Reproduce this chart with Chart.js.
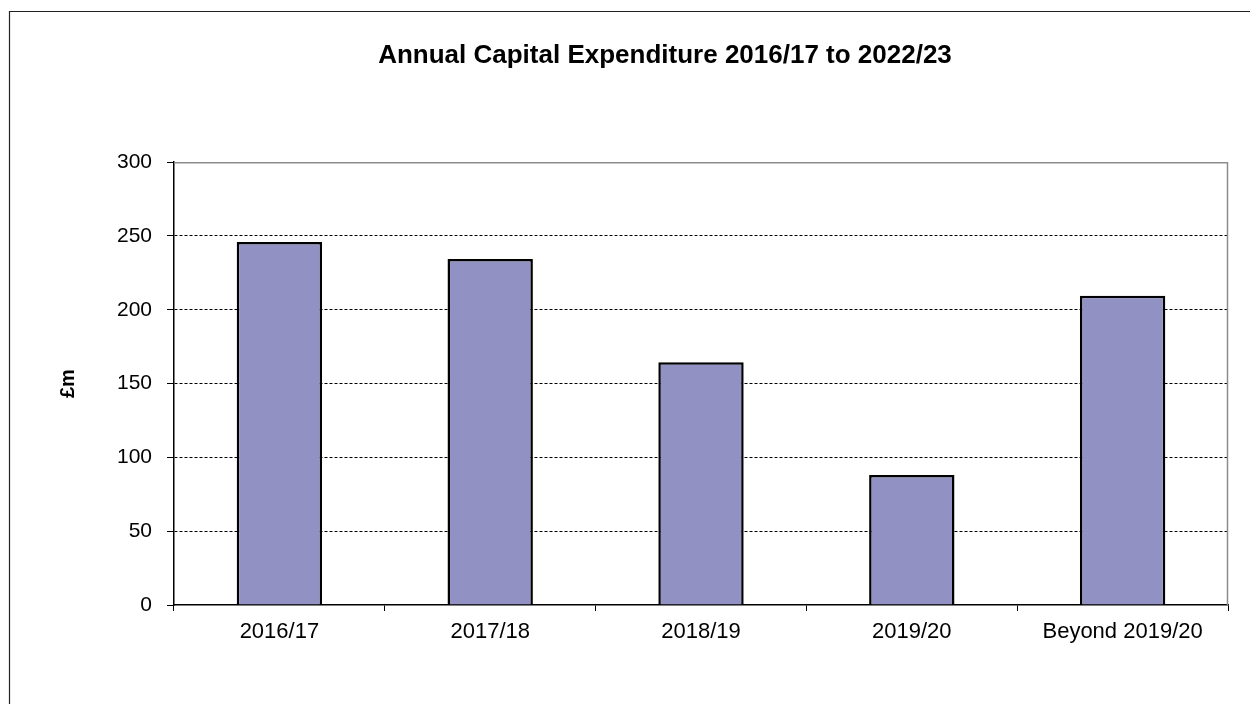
<!DOCTYPE html>
<html>
<head>
<meta charset="utf-8">
<script src="https://cdn.jsdelivr.net/npm/chart.js@4/dist/chart.umd.min.js"></script>
<style>
  html, body { margin: 0; padding: 0; background: #ffffff; }
  #wrap { position: relative; width: 1250px; height: 704px; }
</style>
</head>
<body>
<div id="wrap"><canvas id="c" width="1250" height="704"></canvas></div>
<script>
const categories = ["2016/17", "2017/18", "2018/19", "2019/20", "Beyond 2019/20"];
const expenditure = [246, 234.5, 164.5, 88, 209.5];
const yTicks = [0, 50, 100, 150, 200, 250, 300];
const chartTitle = "Annual Capital Expenditure 2016/17 to 2022/23";
const yAxisTitle = "£m";

const FONT = "'Liberation Sans', Arial, sans-serif";

const framePlugin = {
  id: 'frame',
  beforeDraw(chart) {
    const ctx = chart.ctx;
    ctx.save();
    ctx.fillStyle = '#ffffff';
    ctx.fillRect(0, 0, chart.width, chart.height);
    ctx.strokeStyle = '#222222';
    ctx.lineWidth = 1.2;
    ctx.beginPath();
    ctx.moveTo(9.5, chart.height);
    ctx.lineTo(9.5, 11.5);
    ctx.lineTo(chart.width, 11.5);
    ctx.stroke();
    ctx.restore();
  },
  afterDraw(chart) {
    const a = chart.chartArea;
    const ctx = chart.ctx;
    ctx.save();
    ctx.strokeStyle = '#8c8c8c';
    ctx.lineWidth = 1.5;
    ctx.beginPath();
    ctx.moveTo(a.left, a.top + 0.5);
    ctx.lineTo(a.right - 0.5, a.top + 0.5);
    ctx.lineTo(a.right - 0.5, a.bottom);
    ctx.stroke();
    ctx.restore();
  }
};

// layout: left padding chosen so the chart title centres where the reference's does;
// the y scale width and its title offset then put the axis at x=174 and "£m" at x≈68.
const PAD_LEFT = 102;

new Chart(document.getElementById('c'), {
  type: 'bar',
  data: {
    labels: categories,
    datasets: [{
      data: expenditure,
      backgroundColor: '#9191c4',
      borderColor: '#000000',
      borderWidth: 2.5,
      borderSkipped: 'start',
      barPercentage: 0.405,
      categoryPercentage: 1.0
    }]
  },
  options: {
    responsive: false,
    animation: false,
    devicePixelRatio: 1,
    layout: { padding: { left: PAD_LEFT, right: 22, top: 0, bottom: 0 } },
    plugins: {
      legend: { display: false },
      tooltip: { enabled: false },
      title: {
        display: true,
        text: chartTitle,
        color: '#000000',
        font: { family: FONT, size: 26, weight: 'bold' },
        padding: { top: 40, bottom: 91 }
      }
    },
    scales: {
      x: {
        grid: {
          offset: true,
          drawOnChartArea: false,
          drawTicks: true,
          tickLength: 6,
          tickColor: '#000000',
          tickWidth: 1
        },
        border: { display: true, color: '#000000', width: 1.5 },
        ticks: {
          color: '#000000',
          font: { family: FONT, size: 22 },
          padding: 8,
          maxRotation: 0,
          autoSkip: false
        },
        afterFit(scale) { scale.height = 99; }
      },
      y: {
        min: 0,
        max: 300,
        afterBuildTicks(scale) { scale.ticks = yTicks.map(v => ({ value: v })); },
        grid: {
          drawTicks: true,
          tickLength: 7,
          tickColor: '#000000',
          tickWidth: 1,
          lineWidth: 1,
          color: (c) => (c.tick && (c.tick.value === 0 || c.tick.value === 300)) ? 'rgba(0,0,0,0)' : '#000000'
        },
        border: { display: true, color: '#000000', width: 1.5, dash: [3, 2] },
        ticks: {
          color: '#000000',
          font: { family: FONT, size: 21 },
          padding: 15
        },
        title: {
          display: true,
          text: yAxisTitle,
          color: '#000000',
          font: { family: FONT, size: 20, weight: 'bold' },
          padding: { top: 68 - PAD_LEFT - 12, bottom: 4 }
        },
        afterFit(scale) { scale.width = 174 - PAD_LEFT; }
      }
    }
  },
  plugins: [framePlugin]
});
</script>
</body>
</html>
